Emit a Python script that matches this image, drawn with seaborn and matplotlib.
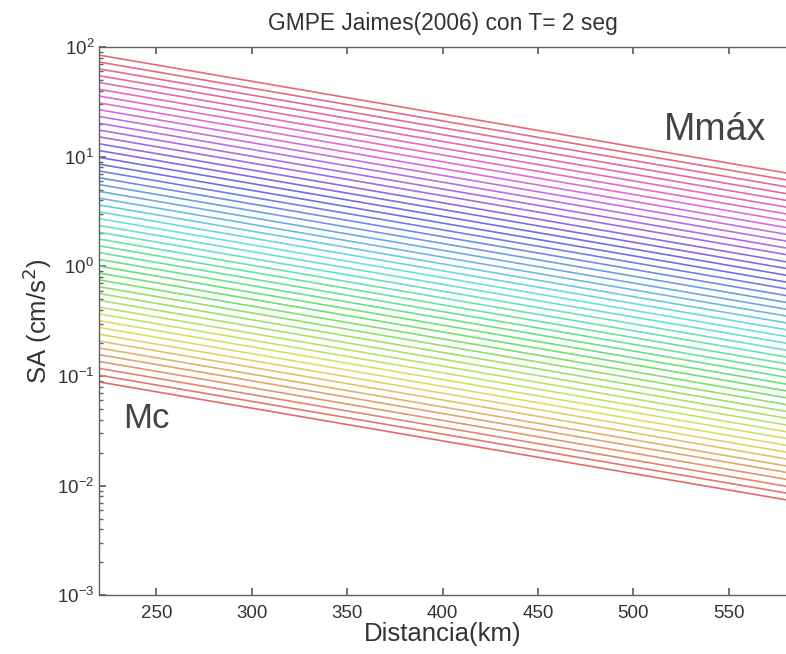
import numpy as np
import pandas as pd
import matplotlib
matplotlib.use("Agg")
import matplotlib.pyplot as plt
import seaborn as sns

# endpoints of each curve, bottom (Mc) to top (Mmax)
distancia = [220, 580]
sa_220 = [0.0881, 0.1016, 0.1173, 0.1355, 0.1563, 0.1799, 0.2080, 0.2399, 0.2767, 0.3192,
          0.3681, 0.4246, 0.4898, 0.5649, 0.6516, 0.7516, 0.8690, 1.002, 1.156, 1.334,
          1.538, 1.774, 2.046, 2.360, 2.723, 3.141, 3.631, 4.188, 4.831, 5.572,
          6.427, 7.413, 8.551, 9.863, 11.38, 13.12, 15.17, 17.50, 20.18, 23.28,
          26.85, 30.97, 35.73, 41.21, 47.53, 54.83, 63.24, 73.11, 84.53]
sa_580 = [0.00741, 0.00855, 0.00986, 0.0114, 0.0132, 0.0151, 0.0175, 0.0202, 0.0233, 0.0269,
          0.0310, 0.0357, 0.0412, 0.0475, 0.0548, 0.0632, 0.0731, 0.0843, 0.0973, 0.112,
          0.129, 0.149, 0.172, 0.199, 0.229, 0.264, 0.305, 0.352, 0.406, 0.469,
          0.541, 0.624, 0.719, 0.830, 0.957, 1.10, 1.28, 1.47, 1.70, 1.96,
          2.26, 2.61, 3.01, 3.47, 4.00, 4.61, 5.32, 6.15, 7.11]
x_ticks = [250, 300, 350, 400, 450, 500, 550]

rows = []
for i in range(len(sa_220)):
    rows.append({"linea": i, "Distancia": distancia[0], "SA": sa_220[i]})
    rows.append({"linea": i, "Distancia": distancia[1], "SA": sa_580[i]})
df = pd.DataFrame(rows)

sns.set_theme(style="ticks")
plt.rcParams['font.family'] = ['Liberation Sans', 'DejaVu Sans']

# hsv ramp, lightened to look like the washed-out original
cmap = plt.get_cmap("hsv")
colores = []
for v in np.linspace(0, 1, len(sa_220)):
    c = np.array(sns.desaturate(cmap(v), 0.7))
    colores.append(tuple(0.66 * c + 0.32))

fig = plt.figure(figsize=(7.86, 6.54), dpi=100)
ax = fig.add_axes([0.126, 0.090, 0.874, 0.838])
sns.lineplot(data=df, x="Distancia", y="SA", hue="linea", palette=colores,
             estimator=None, legend=False, linewidth=1.2, ax=ax)

ax.set_yscale("log")
ax.set_xlim(220, 580)
ax.set_ylim(1e-3, 1e2)
ax.set_xticks(x_ticks)
ax.set_xticklabels([str(t) for t in x_ticks])

for s in ax.spines.values():
    s.set_color("#606060")
    s.set_linewidth(1.0)
ax.spines["right"].set_visible(False)
ax.tick_params(which="both", direction="in", top=True, right=False, colors="#606060",
               labelcolor="#333333", labelsize=13.5)
ax.tick_params(which="major", length=5)
ax.tick_params(which="minor", length=3)
ax.tick_params(axis="x", which="minor", bottom=False, top=False)
ax.tick_params(axis="x", pad=7)

ax.set_xlabel("Distancia(km)", fontsize=18.5, color="#333333", labelpad=0)
ax.set_ylabel("SA (cm/s$^2$)", fontsize=18.5, color="#333333", labelpad=2)
ax.set_title("GMPE Jaimes(2006) con T= 2 seg", fontsize=16.4, color="#333333", pad=12)

ax.text(245, 0.041, "Mc", fontsize=25, color="#444444", ha="center", va="center")
ax.text(543, 17.5, "Mmáx", fontsize=27, color="#444444", ha="center", va="center")

fig.savefig("out.png", dpi=100, facecolor="white")
